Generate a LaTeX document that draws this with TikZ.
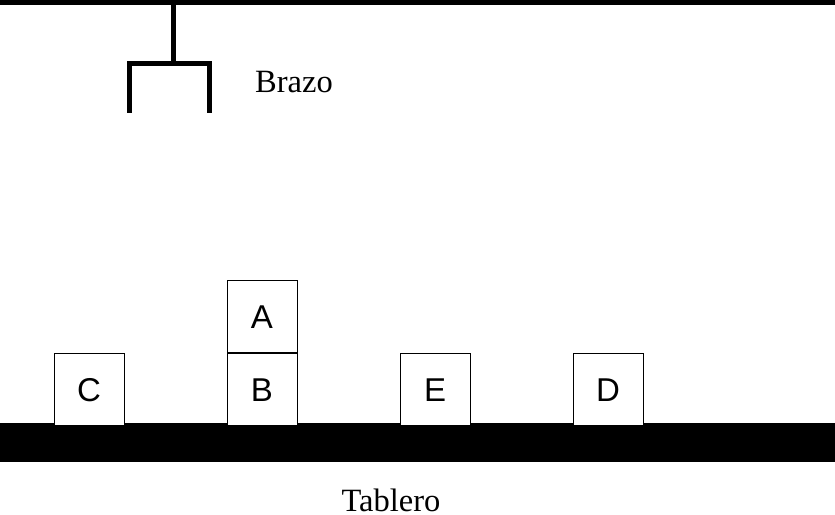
\documentclass[tikz,border=0pt]{standalone}
\usepackage{fontspec}
\setmainfont{Liberation Serif}
\setsansfont{Liberation Sans}
\begin{document}
\begin{tikzpicture}[x=1pt,y=1pt,
  bar/.style={line width=5pt},
  block/.style={draw=black,fill=white,line width=1pt,minimum width=70pt,minimum height=72pt,inner sep=0pt,font=\sffamily\fontsize{33}{38}\selectfont},
  lbl/.style={font=\fontsize{32.5}{38}\selectfont,inner sep=0pt}]
\useasboundingbox (0,0) rectangle (835,514);
% ceiling rail
\draw[bar] (0,511) -- (835,511);
% arm
\draw[bar] (173,511) -- (173,450.5);
\draw[bar,line cap=rect] (129.5,450.5) -- (209.5,450.5);
\draw[bar] (129.5,450.5) -- (129.5,401);
\draw[bar] (209.5,450.5) -- (209.5,401);
\node[lbl] (brazo) at (294,432) {Brazo};
% table
\fill[black] (0,52) rectangle (835,91);
\node[lbl] (tablero) at (391,14) {Tablero};
% blocks
\node[block] (C) at (89,124) {C};
\node[block] (B) at (262,124) {B};
\node[block,anchor=south] (A) at (B.north) {A};
\node[block] (E) at (435,124) {E};
\node[block] (D) at (608,124) {D};
\end{tikzpicture}
\end{document}
